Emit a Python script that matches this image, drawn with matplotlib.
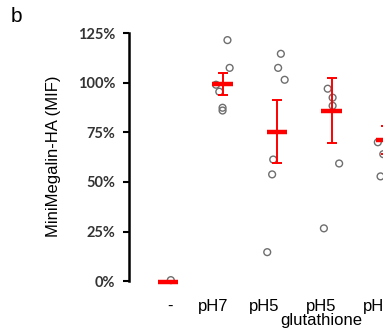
import numpy as np
import matplotlib.pyplot as plt
from matplotlib.ticker import FuncFormatter

# data (% of pH7 MIF)
groups = ['-', 'pH7', 'pH5', 'pH5\nglutathione', 'pH2']
label_pos = [0.04, 0.83, 1.76, 2.81, 3.85]
points = [
    [0.5],
    [121.5, 107.5, 99.0, 95.5, 87.4, 86.0],
    [114.6, 107.5, 101.5, 61.3, 53.8, 14.6],
    [97.0, 92.5, 88.4, 59.3, 26.6],
    [70.0, 64.0, 52.8],
]
point_dx = [
    [0.05],
    [0.09, 0.13, -0.12, -0.06, 0.0, 0.0],
    [0.07, 0.02, 0.14, -0.07, -0.09, -0.18],
    [-0.07, 0.02, 0.02, 0.14, -0.14],
    [-0.15, -0.05, -0.1],
]
means = [-0.5, 99.5, 75.4, 86.0, 71.0]
sem = [0.0, 5.5, 16.0, 16.6, 7.0]

fig = plt.figure(figsize=(3.83, 3.35), dpi=100)
ax = fig.add_axes([0.337, 0.149, 0.663, 0.752])

x = np.arange(len(groups))
for i in range(len(groups)):
    ax.scatter(x[i] + np.array(point_dx[i]), points[i], s=24, facecolors='none',
               edgecolors='#6e6e6e', linewidths=1.0, zorder=2, clip_on=False)

ax.errorbar(x, means, yerr=sem, fmt='none', ecolor='#ff0000', elinewidth=1.4,
            capsize=3.5, capthick=1.4, zorder=3)
for i in range(len(groups)):
    ax.plot([x[i] - 0.19, x[i] + 0.19], [means[i], means[i]], color='#ff0000',
            lw=3.2, solid_capstyle='butt', zorder=4, clip_on=False)

ax.set_xlim(-0.716, 3.945)
ax.set_ylim(-2, 125)
ax.set_yticks([0, 25, 50, 75, 100, 125])
ax.yaxis.set_major_formatter(FuncFormatter(lambda v, p: f'{v:.0f}%'))
for lab in ax.get_yticklabels():
    lab.set_fontweight('bold')
    lab.set_fontfamily('Lato')
    lab.set_fontsize(10.5)
    lab.set_color('#333333')
ax.tick_params(axis='y', length=4, width=1.5, direction='out', pad=6, color='black')

ax.set_xticks(label_pos)
ax.set_xticklabels(groups, fontsize=12, fontfamily='Liberation Sans', linespacing=0.95)
ax.tick_params(axis='x', length=0, pad=10)

for s in ['top', 'right', 'bottom']:
    ax.spines[s].set_visible(False)
ax.spines['left'].set_bounds(0, 125)
ax.spines['left'].set_linewidth(1.8)

ax.set_ylabel('MiniMegalin-HA (MIF)', fontsize=12, fontfamily='Liberation Sans')
ax.yaxis.set_label_coords(-0.27, 0.51)

fig.text(0.028, 0.935, 'b', fontsize=15, fontfamily='Liberation Sans')

fig.savefig('out.png', dpi=100)
